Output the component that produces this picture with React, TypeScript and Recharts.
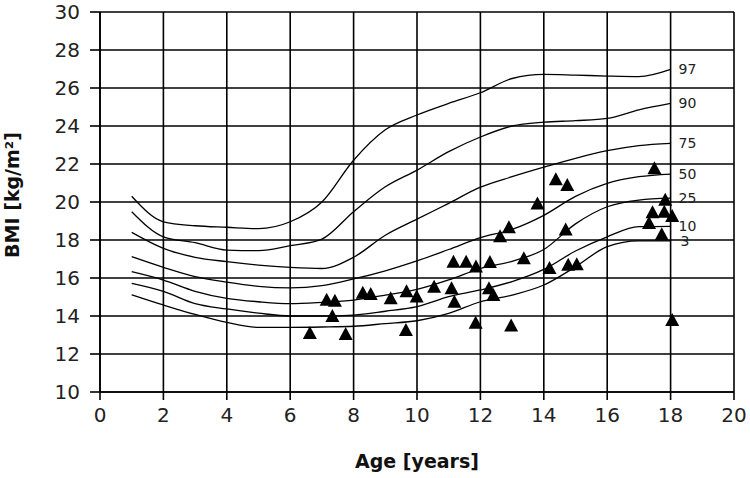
import React from 'react';
import { ComposedChart, Line, Scatter, XAxis, YAxis, CartesianGrid } from 'recharts';

// percentile reference curves, read at whole years
const ages = [1, 2, 3, 4, 5, 6, 7, 8, 9, 10, 11, 12, 13, 14, 15, 16, 17, 18];
const p97 = [20.3, 18.96, 18.75, 18.67, 18.6, 18.96, 20.0, 22.2, 23.8, 24.58, 25.19, 25.75, 26.5, 26.72, 26.68, 26.63, 26.6, 26.98];
const p90 = [19.49, 18.17, 17.86, 17.47, 17.44, 17.7, 18.05, 19.49, 20.8, 21.68, 22.65, 23.42, 24.0, 24.2, 24.28, 24.4, 24.85, 25.19];
const p75 = [18.4, 17.56, 17.09, 16.86, 16.68, 16.56, 16.5, 17.09, 18.25, 19.1, 19.93, 20.78, 21.33, 21.83, 22.3, 22.7, 22.97, 23.09];
const p50 = [17.12, 16.56, 16.07, 15.78, 15.56, 15.48, 15.6, 15.95, 16.38, 16.9, 17.5, 18.12, 18.56, 19.3, 20.3, 20.98, 21.33, 21.47];
const p25 = [16.33, 15.89, 15.3, 14.93, 14.75, 14.65, 14.72, 14.84, 15.1, 15.4, 15.9, 16.5, 16.88, 17.5, 18.85, 19.75, 20.1, 20.2];
const p10 = [15.72, 15.3, 14.65, 14.37, 14.15, 14.0, 14.0, 14.05, 14.25, 14.49, 15.02, 15.37, 15.81, 16.45, 17.42, 18.17, 18.7, 18.72];
const p3 = [15.12, 14.58, 14.08, 13.66, 13.4, 13.4, 13.42, 13.46, 13.6, 13.75, 14.14, 14.75, 15.1, 15.63, 16.59, 17.65, 17.95, 17.95];
const percentileNames = ['97', '90', '75', '50', '25', '10', '3'];
const percentileValues = [p97, p90, p75, p50, p25, p10, p3];

// patients
const patientAge = [6.62, 7.15, 7.41, 7.33, 7.75, 8.29, 8.54, 9.17, 9.65, 9.67, 9.99, 10.54, 11.09, 11.18, 11.15, 11.55, 11.86, 11.85, 12.3, 12.27, 12.41, 12.62, 12.9, 12.97, 13.37, 13.8, 14.18, 14.38, 14.74, 14.69, 14.77, 15.04, 17.32, 17.43, 17.49, 17.72, 17.8, 17.83, 18.05, 18.05];
const patientBmi = [13.1, 14.85, 14.8, 14.0, 13.05, 15.23, 15.16, 14.93, 13.26, 15.3, 15.02, 15.54, 15.46, 14.75, 16.86, 16.85, 16.6, 13.65, 16.84, 15.46, 15.1, 18.2, 18.67, 13.5, 17.04, 19.92, 16.53, 21.2, 20.9, 18.55, 16.7, 16.72, 18.9, 19.46, 21.77, 18.3, 19.49, 20.12, 19.26, 13.79];

const xTicks = [0, 2, 4, 6, 8, 10, 12, 14, 16, 18, 20];
const yTicks = [10, 12, 14, 16, 18, 20, 22, 24, 26, 28, 30];

const curves = percentileNames.map((name, i) => ({
  name,
  data: ages.map((age, j) => ({ age, bmi: percentileValues[i][j] })),
}));

const patients = patientAge.map((age, i) => ({ age, bmi: patientBmi[i] }));

const FONT = '"DejaVu Sans", sans-serif';

const Triangle = (props: any) => {
  const { cx, cy } = props;
  if (cx == null || cy == null) return null;
  return <polygon points={`${cx},${cy - 7} ${cx + 7},${cy + 6} ${cx - 7},${cy + 6}`} fill="#000" />;
};

const endLabel = (name: string) => (props: any) => {
  const { x, y, index } = props;
  if (index !== ages.length - 1) return null;
  return (
    <text x={x + (name === '3' ? 10 : 8)} y={y} dy="0.36em" fontSize={14} fontFamily={FONT} fill="#222">
      {name}
    </text>
  );
};

export default function App() {
  return (
    <div>
      <style>{'body{margin:0}'}</style>
      <ComposedChart width={750} height={478} margin={{ top: 12, right: 16, left: 0, bottom: 0 }}>
        <CartesianGrid stroke="#000" strokeWidth={1.6} />
        <XAxis
          dataKey="age"
          type="number"
          domain={[0, 20]}
          ticks={xTicks}
          interval={0}
          height={86}
          tickSize={8}
          tickMargin={8}
          axisLine={{ stroke: '#000', strokeWidth: 1.6 }}
          tickLine={{ stroke: '#000', strokeWidth: 1.6 }}
          tick={{ fill: '#222', fontSize: 20, fontFamily: FONT }}
          label={{
            content: ({ viewBox }: any) => (
              <text x={viewBox.x + viewBox.width / 2} y={viewBox.y + 76} textAnchor="middle"
                fontSize={19} fontWeight="bold" fontFamily={FONT} fill="#111">
                Age [years]
              </text>
            ),
          }}
        />
        <YAxis
          type="number"
          domain={[10, 30]}
          ticks={yTicks}
          interval={0}
          width={100}
          tickSize={10}
          tickMargin={10}
          axisLine={{ stroke: '#000', strokeWidth: 1.6 }}
          tickLine={{ stroke: '#000', strokeWidth: 1.6 }}
          tick={{ fill: '#222', fontSize: 20, fontFamily: FONT }}
          label={{
            content: ({ viewBox }: any) => (
              <text transform={`translate(19, ${viewBox.y + viewBox.height / 2 - 7}) rotate(-90)`}
                textAnchor="middle" fontSize={19} fontWeight="bold" fontFamily={FONT} fill="#111">
                BMI [kg/m²]
              </text>
            ),
          }}
        />
        {curves.map((c) => (
          <Line
            key={c.name}
            data={c.data}
            dataKey="bmi"
            type="monotone"
            stroke="#000"
            strokeWidth={1.3}
            dot={false}
            activeDot={false}
            isAnimationActive={false}
            label={endLabel(c.name)}
          />
        ))}
        <Scatter data={patients} dataKey="bmi" shape={Triangle} fill="#000" isAnimationActive={false} />
      </ComposedChart>
    </div>
  );
}
